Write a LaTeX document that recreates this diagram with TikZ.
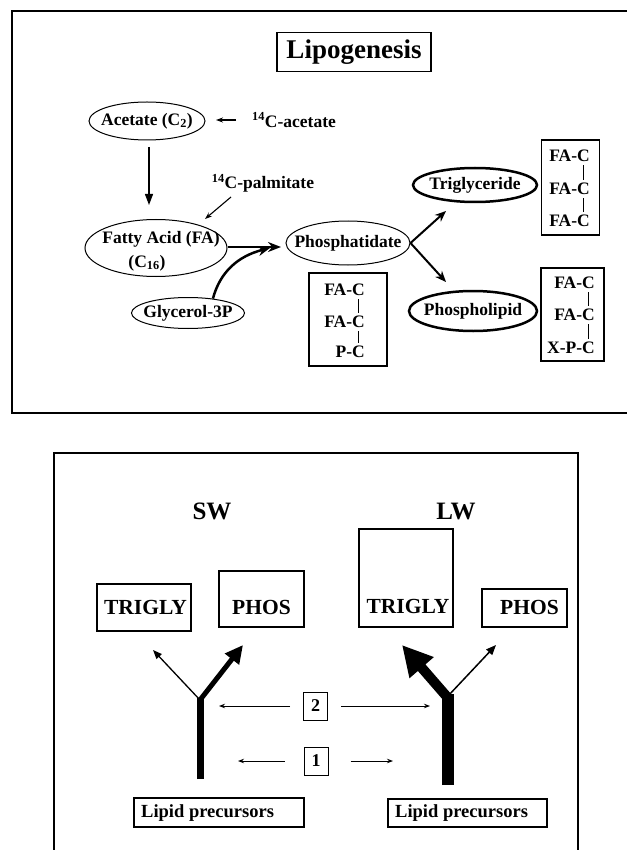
\documentclass[tikz,border=0pt]{standalone}
\usepackage{fontspec}
\setmainfont{Liberation Serif}
\usetikzlibrary{arrows.meta,shapes.geometric,calc}
\begin{document}
\begin{tikzpicture}[x=1pt,y=-1pt,
  lbl/.style={font=\fontsize{17.5}{20}\selectfont\bfseries, inner sep=0pt},
  ell/.style={ellipse, draw, line width=1pt, inner sep=0pt, lbl},
  fbox/.style={draw, line width=1.2pt, inner sep=0pt},
  bond/.style={line width=0.9pt},
  thinarr/.style={line width=1.1pt, -{Stealth[length=7pt,width=5pt]}},
  medarr/.style={line width=2pt, -{Stealth[length=11pt,width=9pt]}},
  numarr/.style={line width=0.9pt, -{Stealth[length=6pt,width=4.5pt]}},
  big/.style={font=\fontsize{21.5}{24}\selectfont\bfseries, inner sep=0pt},
  lip/.style={font=\fontsize{18.5}{21}\selectfont\bfseries, inner sep=0pt},
  num/.style={draw, line width=1pt, inner sep=0pt, minimum width=24pt, minimum height=28pt, font=\fontsize{18}{20}\selectfont\bfseries}]
\useasboundingbox (0,0) rectangle (626,850);
\fill[white] (0,0) rectangle (626,850);
% ---------- top panel ----------
\draw[line width=2pt] (12,11) rectangle (650,413);
\node[draw, line width=1.2pt, minimum width=154pt, minimum height=39pt, inner sep=0pt,
      font=\fontsize{27}{30}\selectfont\bfseries] (title) at (354,52) {Lipogenesis};
\node[ell, minimum width=116pt, minimum height=38pt] (ac) at (147,121) {\makebox[0pt]{Acetate (C\textsubscript{2})}};
\node[lbl, anchor=west] (c14a) at (252,120) {\textsuperscript{14}C-acetate};
\coordinate (acstart) at (236,120);
\coordinate (acend) at (216,120);
\draw[thinarr] (acstart) -- (acend);
\node[ell, minimum width=142pt, minimum height=57pt] (fa) at (156,248) {};
\node[lbl] (fat) at (161,239) {Fatty Acid (FA)};
\node[lbl] (c16) at (147,263) {(C\textsubscript{16})};
\coordinate (d1) at (149,147);
\coordinate (d2) at (149,205);
\draw[line width=1.3pt, -{Triangle[length=11pt,width=8pt]}] (d1) -- (d2);
\node[lbl] (c14p) at (263,183) {\textsuperscript{14}C-palmitate};
\coordinate (p1) at (231,197);
\coordinate (p2) at (205,219);
\draw[thinarr] (p1) -- (p2);
\node[ell, minimum width=124pt, minimum height=44pt] (ph) at (348,243) {\makebox[0pt]{Phosphatidate}};
\node[ell, minimum width=113pt, minimum height=31pt] (gl) at (188,313) {\makebox[0pt]{Glycerol-3P}};
\node[ell, line width=2.5pt, minimum width=124pt, minimum height=34pt] (tg) at (475,185) {\makebox[0pt]{Triglyceride}};
\node[ell, line width=2.5pt, minimum width=128pt, minimum height=40pt] (pl) at (473,311) {\makebox[0pt]{Phospholipid}};
\coordinate (faend) at (281,247);
\draw[line width=2.5pt, -{Stealth[length=13pt,width=10pt]}] (fa.east |- faend) -- (faend);
\coordinate (glend) at (270,248);
\draw[line width=2.5pt, -{Stealth[length=12pt,width=10pt]}] (gl.30) .. controls (220,272) and (238,256) .. (glend);
\coordinate (tgarr) at (446,211);
\coordinate (plarr) at (446,282);
\draw[medarr] (ph.east) -- (tgarr);
\draw[medarr] (ph.east) -- (plarr);
% formula boxes
\node[fbox, minimum width=78pt, minimum height=93pt] (bxp) at (348,319.5) {};
\node[lbl, anchor=east] (bp1) at (365,290) {FA-C};
\node[lbl, anchor=east] (bp2) at (365,322) {FA-C};
\node[lbl, anchor=east] (bp3) at (365,352) {P-C};
\draw[bond] ($(bp1.south east)+(-6.5,3)$) -- ($(bp2.north east)+(-6.5,-3)$);
\draw[bond] ($(bp2.south east)+(-6.5,3)$) -- ($(bp3.north east)+(-6.5,-3)$);
\node[fbox, minimum width=58pt, minimum height=95pt] (bxt) at (570.5,187.5) {};
\node[lbl, anchor=east] (bt1) at (590,156) {FA-C};
\node[lbl, anchor=east] (bt2) at (590,189) {FA-C};
\node[lbl, anchor=east] (bt3) at (590,221) {FA-C};
\draw[bond] ($(bt1.south east)+(-6.5,3)$) -- ($(bt2.north east)+(-6.5,-3)$);
\draw[bond] ($(bt2.south east)+(-6.5,3)$) -- ($(bt3.north east)+(-6.5,-3)$);
\node[fbox, minimum width=63pt, minimum height=93pt] (bxl) at (572.5,314.5) {};
\node[lbl, anchor=east] (bl1) at (595,283) {FA-C};
\node[lbl, anchor=east] (bl2) at (595,315) {FA-C};
\node[lbl, anchor=east] (bl3) at (595,348) {X-P-C};
\draw[bond] ($(bl1.south east)+(-6.5,3)$) -- ($(bl2.north east)+(-6.5,-3)$);
\draw[bond] ($(bl2.south east)+(-6.5,3)$) -- ($(bl3.north east)+(-6.5,-3)$);
% ---------- bottom panel ----------
\draw[line width=1.5pt] (54,453) rectangle (578,880);
\node[font=\fontsize{25}{28}\selectfont\bfseries, inner sep=0pt] (sw) at (212,511) {SW};
\node[font=\fontsize{25}{28}\selectfont\bfseries, inner sep=0pt] (lw) at (456,511) {LW};
\node[fbox, minimum width=94pt, minimum height=47pt] (tgs) at (144,607.5) {};
\node[big] (tgst) at (145.5,607) {TRIGLY};
\node[fbox, minimum width=85pt, minimum height=56pt] (phs) at (261.5,599) {};
\node[big] (phst) at (261.5,607) {PHOS};
\node[fbox, minimum width=94pt, minimum height=98pt] (tgl) at (406,578) {};
\node[big] (tglt) at (408,606) {TRIGLY};
\node[fbox, minimum width=85pt, minimum height=38pt] (phl) at (524.5,608) {};
\node[big] (phlt) at (529.5,607) {PHOS};
% Y arrows
\coordinate (swb) at (200,779);
\coordinate (swj) at (200,698);
\coordinate (swl) at (153,650);
\coordinate (swr) at (243,645);
\draw[line width=1.3pt, -{Triangle[length=9pt,width=7pt]}] ([yshift=-2pt]swj) -- (swl);
\draw[line width=5pt, line cap=round, -{Triangle[length=18pt,width=17pt]}] ([yshift=-2pt]swj) -- (swr);
\draw[line width=7pt] (swb) -- (swj);
\coordinate (lwb) at (448,785);
\coordinate (lwj) at (448,694);
\coordinate (lwl) at (402,645);
\coordinate (lwr) at (496,645);
\draw[line width=1.5pt, -{Triangle[length=10pt,width=8pt]}] ([yshift=-2pt]lwj) -- (lwr);
\draw[line width=10pt, line cap=round, -{Triangle[length=30pt,width=30pt]}] ([yshift=-4pt]lwj) -- (lwl);
\draw[line width=12pt] (lwb) -- (lwj);
% numbered boxes
\node[num] (b2) at (315.5,706) {2};
\node[num] (b1) at (316,761) {1};
\coordinate (a2l) at (219,706);
\coordinate (a2r) at (430,706);
\coordinate (a1l) at (238,761);
\coordinate (a1r) at (393,761);
\draw[numarr] ([xshift=-13pt]b2.west) -- (a2l);
\draw[numarr] ([xshift=13pt]b2.east) -- (a2r);
\draw[numarr] ([xshift=-19pt]b1.west) -- (a1l);
\draw[numarr] ([xshift=22pt]b1.east) -- (a1r);
% lipid precursors
\node[fbox, minimum width=170pt, minimum height=29pt] (lps) at (219,812.5) {};
\node[lip, anchor=west] (lpst) at (141,813) {Lipid precursors};
\node[fbox, minimum width=159pt, minimum height=28pt] (lpl) at (467.5,813) {};
\node[lip, anchor=west] (lplt) at (395,813) {Lipid precursors};
\end{tikzpicture}
\end{document}
